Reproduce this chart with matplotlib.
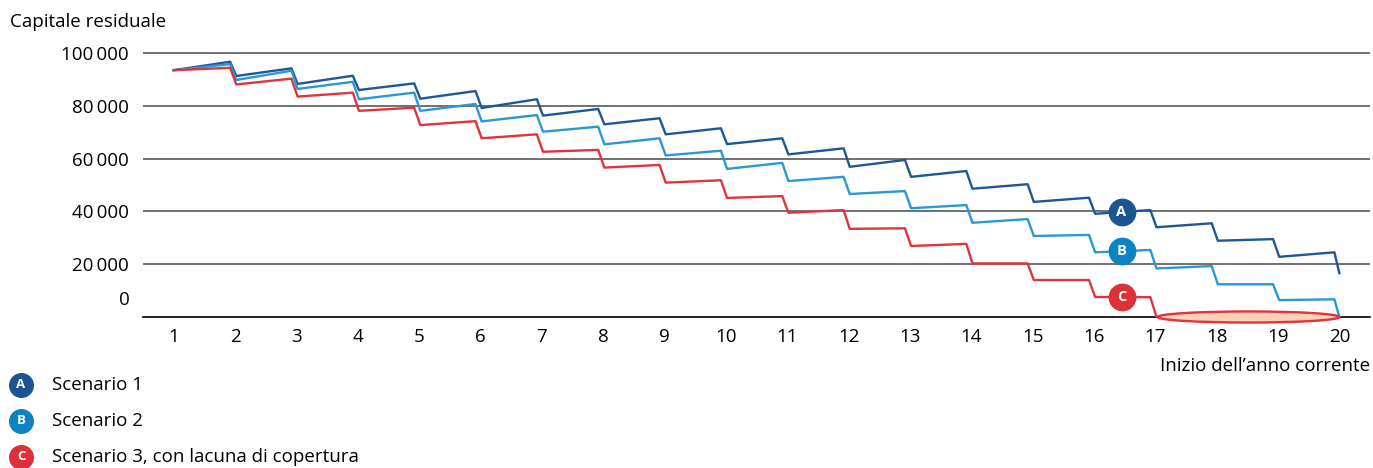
import numpy as np
import matplotlib
matplotlib.use("Agg")
import matplotlib.pyplot as plt
from matplotlib.patches import Ellipse
from matplotlib.lines import Line2D

plt.rcParams['font.family'] = ['Open Sans', 'DejaVu Sans']

# anni (inizio dell'anno), valori in CHF
years = np.arange(1, 21)
start_value = 93500

# valore prima del versamento annuo (anni 2..20) e subito dopo (anni 2..20)
peaks_a = [96700, 94200, 91400, 88500, 85600, 82500, 78800, 75300, 71500, 67700,
           63900, 59500, 55300, 50300, 45200, 40500, 35500, 29500, 24500]
troughs_a = [91300, 88300, 86000, 82700, 79200, 76300, 73000, 69200, 65500, 61600,
             56900, 53100, 48600, 43600, 39100, 34000, 28900, 22800, 16600]

peaks_b = [95800, 93300, 89100, 85000, 80700, 76500, 72100, 67700, 63000, 58400,
           53100, 47700, 42400, 37100, 31100, 25400, 19300, 12400, 6700]
troughs_b = [89800, 86400, 82500, 78100, 74100, 70200, 65400, 61200, 56100, 51500,
             46600, 41200, 35700, 30700, 24500, 18400, 12400, 6400, 0]

peaks_c = [94400, 90300, 85000, 79300, 74200, 69200, 63300, 57600, 51800, 45800,
           40500, 33600, 27700, 20300, 14000, 7500, 0, 0, 0]
troughs_c = [88100, 83500, 78100, 72700, 67700, 62600, 56600, 50900, 45100, 39500,
             33400, 26900, 20300, 14000, 7600, 0, 0, 0, 0]

labels = ["Scenario 1", "Scenario 2", "Scenario 3, con lacuna di copertura"]
letters = ["A", "B", "C"]
line_colors = ["#1c5797", "#2a98d4", "#e1323e"]
badge_colors = ["#1d5593", "#0c84c1", "#dc303b"]
gap_years = (17, 20)

yticks = [20000, 40000, 60000, 80000, 100000]

FS = 13.5


def build(peaks, troughs):
    xs = [years[0]]
    ys = [start_value]
    for k, p, t in zip(years[1:], peaks, troughs):
        xs += [k - 0.08, min(k + 0.02, 20)]
        ys += [p, t]
    return np.array(xs), np.array(ys)


W, H = 1373, 468
fig = plt.figure(figsize=(W / 100, H / 100), dpi=100)
ax_left, ax_right = 143 / W, 1370 / W
ax_bottom = 1 - 317 / H
ax_top = 1 - 50.4 / H
ax = fig.add_axes([ax_left, ax_bottom, ax_right - ax_left, ax_top - ax_bottom])

ax.set_xlim(0.5, 20.5)
ax.set_ylim(0, 101000)

for s in ["top", "right", "left"]:
    ax.spines[s].set_visible(False)
ax.spines["bottom"].set_color("black")
ax.spines["bottom"].set_linewidth(1.2)

ax.set_yticks(yticks)
ax.set_yticklabels([f"{v:,}".replace(",", "\u2009") for v in yticks], fontsize=FS)
ax.set_xticks(years)
ax.set_xticklabels([str(y) for y in years], fontsize=FS)
ax.tick_params(axis="both", length=0)
ax.tick_params(axis="y", pad=10)
ax.tick_params(axis="x", pad=8)
ax.yaxis.grid(True, color="#707070", linewidth=1.4)
ax.set_axisbelow(True)

ax.annotate("0", xy=(0, 0), xycoords=("axes fraction", "data"),
            xytext=(-13, 17), textcoords="offset pixels",
            ha="right", va="center", fontsize=FS)

series = [build(peaks_a, troughs_a), build(peaks_b, troughs_b), build(peaks_c, troughs_c)]
for (xs, ys), col in zip(series, line_colors):
    ax.plot(xs, ys, color=col, linewidth=1.7, zorder=3)

# lacuna di copertura
ax.add_patch(Ellipse(((gap_years[0] + gap_years[1]) / 2 + 0.02, 0), gap_years[1] - gap_years[0] - 0.04,
                     4200, facecolor="#fcd2b6", edgecolor=line_colors[2], linewidth=1.7,
                     clip_on=False, zorder=4))

# badge sulle linee
badge_x = 16.45
for (xs, ys), col, let in zip(series, badge_colors, letters):
    by = np.interp(badge_x, xs, ys)
    ax.plot([badge_x], [by], marker="o", markersize=19, color=col, zorder=5, clip_on=False)
    ax.text(badge_x, by, let, color="white", fontsize=10.5, fontweight="bold",
            ha="center", va="center", zorder=6)

fig.text(10 / W, 1 - 22 / H, "Capitale residuale", fontsize=FS, ha="left", va="center")
fig.text(1370 / W, 1 - 366 / H, "Inizio dell\u2019anno corrente", fontsize=FS,
         ha="right", va="center")

# legenda
for i, (lab, col, let) in enumerate(zip(labels, badge_colors, letters)):
    yy = 1 - (385 + 36 * i) / H
    fig.add_artist(Line2D([21 / W], [yy], marker="o", markersize=17, color=col,
                          transform=fig.transFigure))
    fig.text(21 / W, yy, let, color="white", fontsize=9.5, fontweight="bold",
             ha="center", va="center")
    fig.text(52 / W, yy, lab, fontsize=FS, ha="left", va="center")

fig.savefig("out.png", dpi=100)
